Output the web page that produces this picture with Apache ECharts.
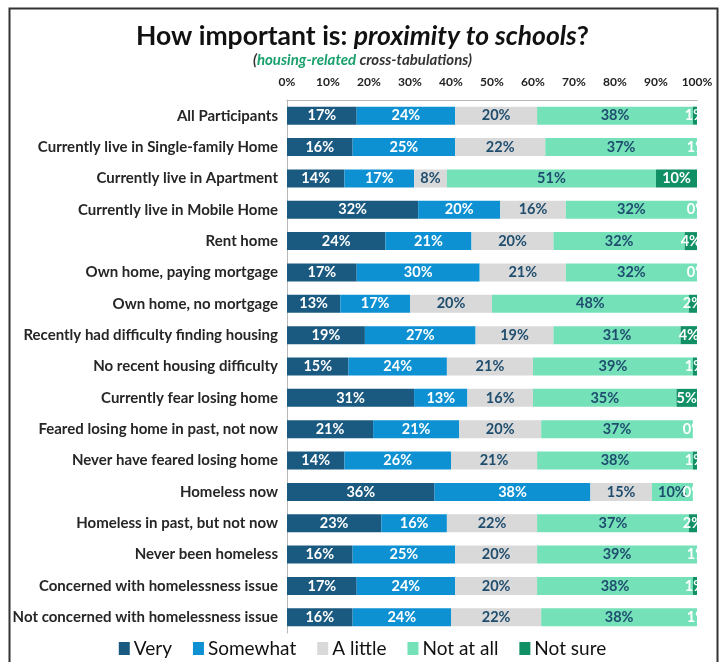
<!DOCTYPE html>
<html>
<head>
<meta charset="utf-8">
<script src="https://cdn.jsdelivr.net/npm/echarts@6/dist/echarts.min.js"></script>
<style>html,body{margin:0;padding:0;background:#fff}#c{width:725px;height:662px}</style>
</head>
<body>
<div id="c"></div>
<script>
const categories = [
  'All Participants',
  'Currently live in Single-family Home',
  'Currently live in Apartment',
  'Currently live in Mobile Home',
  'Rent home',
  'Own home, paying mortgage',
  'Own home, no mortgage',
  'Recently had difficulty finding housing',
  'No recent housing difficulty',
  'Currently fear losing home',
  'Feared losing home in past, not now',
  'Never have feared losing home',
  'Homeless now',
  'Homeless in past, but not now',
  'Never been homeless',
  'Concerned with homelessness issue',
  'Not concerned with homelessness issue'
];
const seriesNames = ['Very', 'Somewhat', 'A little', 'Not at all', 'Not sure'];
const very      = [17,16,14,32,24,17,13,19,15,31,21,14,36,23,16,17,16];
const somewhat  = [24,25,17,20,21,30,17,27,24,13,21,26,38,16,25,24,24];
const aLittle   = [20,22, 8,16,20,21,20,19,21,16,20,21,15,22,20,20,22];
const notAtAll  = [38,37,51,32,32,32,48,31,39,35,37,38,10,37,39,38,38];
const notSure   = [ 1, 1,10, 0, 4, 0, 2, 4, 1, 5, 0, 1, 0, 2, 1, 1, 1];
const xTicks = ['0%','10%','20%','30%','40%','50%','60%','70%','80%','90%','100%'];

const colors = ['#1b5a80', '#0e91d3', '#d9d9d9', '#74e1b9', '#109064'];
const labelColors = ['#ffffff', '#ffffff', '#1f4d6e', '#1f4d6e', '#ffffff'];
const values = [very, somewhat, aLittle, notAtAll, notSure];
const FONT = 'Lato';

const chart = echarts.init(document.getElementById('c'));
chart.setOption({
  animation: false,
  textStyle: { fontFamily: FONT },
  title: [{
    text: '{a|How important is: }{b|proximity to schools}{a|?}',
    left: 'center', top: 18,
    textStyle: {
      rich: {
        a: { fontFamily: FONT, fontSize: 26.5, fontWeight: 'bold', color: '#111' },
        b: { fontFamily: FONT, fontSize: 26.5, fontWeight: 'bold', fontStyle: 'italic', color: '#111' }
      }
    }
  }, {
    text: '{p|(}{g|housing-related}{p| cross-tabulations)}',
    left: 'center', top: 48,
    textStyle: {
      rich: {
        p: { fontFamily: FONT, fontSize: 15, fontWeight: 'bold', fontStyle: 'italic', color: '#333' },
        g: { fontFamily: FONT, fontSize: 15, fontWeight: 'bold', fontStyle: 'italic', color: '#1aa06c' }
      }
    }
  }],
  legend: {
    data: seriesNames,
    bottom: -1, left: 'center',
    itemWidth: 11, itemHeight: 13, itemGap: 21,
    icon: 'rect',
    textStyle: { fontFamily: FONT, fontSize: 19, color: '#111', padding: [0, 0, 0, -1] }
  },
  grid: { left: 287, right: 28, top: 100, bottom: 29, containLabel: false },
  xAxis: {
    type: 'value', position: 'top', min: 0, max: 100, interval: 10,
    axisLine: { show: true, lineStyle: { color: '#b8b8b8', width: 1 } },
    axisTick: { show: false },
    splitLine: { show: false },
    axisLabel: {
      margin: 12, fontFamily: FONT, fontSize: 12, fontWeight: 'bold', color: '#222',
      formatter: v => xTicks[Math.round(v / 10)]
    }
  },
  yAxis: {
    type: 'category', data: categories, inverse: true,
    axisLine: { show: true, lineStyle: { color: '#b8b8b8', width: 1 } },
    axisTick: { show: false },
    axisLabel: { margin: 9, fontFamily: FONT, fontSize: 15, fontWeight: 'bold', color: '#262626' }
  },
  series: seriesNames.map((name, i) => ({
    name, type: 'bar', stack: 'total', barWidth: 18,
    data: values[i],
    itemStyle: { color: colors[i] },
    label: {
      show: true, position: 'inside',
      fontFamily: FONT, fontSize: 14.5, fontWeight: 'bold', color: labelColors[i],
      formatter: p => p.value + '%'
    },
    emphasis: { disabled: true }
  })),
  graphic: [
    { type: 'rect', z: 100, silent: true, shape: { x: 698, y: 101, width: 17, height: 533 }, style: { fill: '#fff' } },
    { type: 'rect', z: 101, silent: true, shape: { x: 9.5, y: 8.5, width: 708, height: 700 }, style: { fill: 'none', stroke: '#333', lineWidth: 2 } }
  ]
});
</script>
</body>
</html>
